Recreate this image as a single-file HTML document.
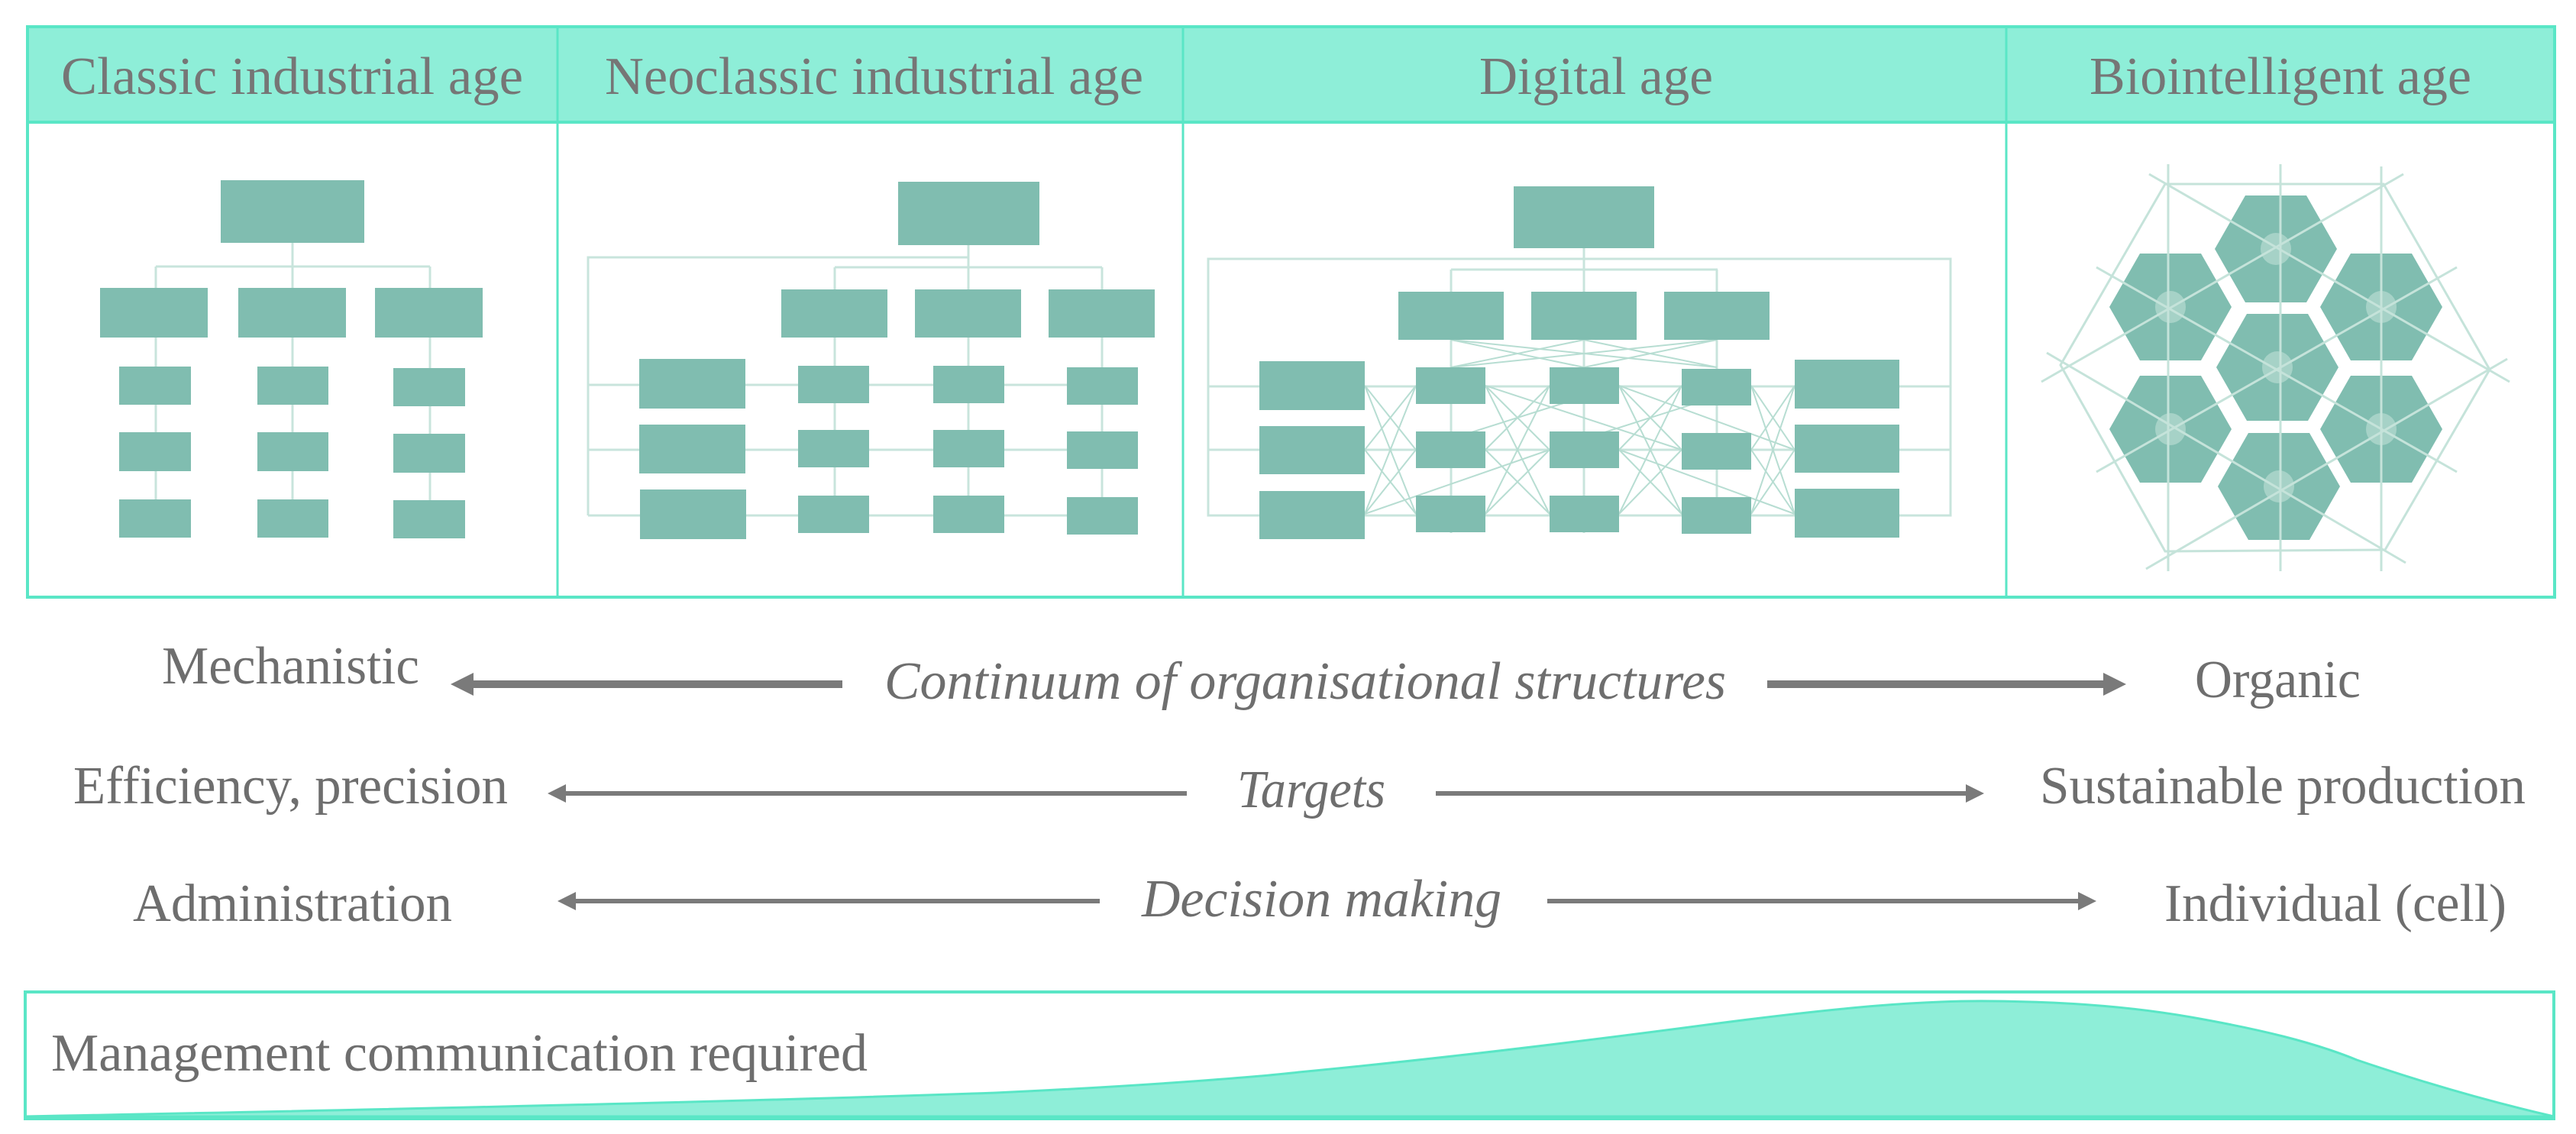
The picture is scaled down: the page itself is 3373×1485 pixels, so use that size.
<!DOCTYPE html>
<html><head><meta charset="utf-8"><style>html,body{margin:0;padding:0;background:#fff}svg{display:block}</style></head>
<body>
<svg width="3373" height="1485" viewBox="0 0 3373 1485" xmlns="http://www.w3.org/2000/svg" font-family="Liberation Serif, serif">
<!-- headers -->
<rect x="36" y="35" width="3309" height="125" fill="#8eeed8"/>
<rect x="36" y="35" width="3309" height="747" fill="none" stroke="#5ae6c6" stroke-width="4"/>
<line x1="36" y1="160" x2="3345" y2="160" stroke="#5ae6c6" stroke-width="4"/>
<g stroke="#5ae6c6" stroke-width="3">
<line x1="730" y1="35" x2="730" y2="782"/>
<line x1="1549" y1="35" x2="1549" y2="782"/>
<line x1="2627" y1="35" x2="2627" y2="782"/>
</g>
<g fill="#767676" font-size="70">
<text x="80" y="123" textLength="605" lengthAdjust="spacingAndGlyphs">Classic industrial age</text>
<text x="792" y="123" textLength="705" lengthAdjust="spacingAndGlyphs">Neoclassic industrial age</text>
<text x="1937" y="123" textLength="306" lengthAdjust="spacingAndGlyphs">Digital age</text>
<text x="2736" y="123" textLength="500" lengthAdjust="spacingAndGlyphs">Biointelligent age</text>
</g>

<!-- panel 1 -->
<g stroke="#c8e4dc" stroke-width="3" fill="none">
<line x1="383" y1="318" x2="383" y2="704"/>
<line x1="204" y1="349" x2="563" y2="349"/>
<line x1="204" y1="349" x2="204" y2="704"/>
<line x1="563" y1="349" x2="563" y2="704"/>
</g>
<g fill="#80bdb0">
<rect x="289" y="236" width="188" height="82"/>
<rect x="131" y="377" width="141" height="65"/><rect x="312" y="377" width="141" height="65"/><rect x="491" y="377" width="141" height="65"/>
<rect x="156" y="480" width="94" height="50"/><rect x="337" y="480" width="93" height="50"/><rect x="515" y="482" width="94" height="50"/>
<rect x="156" y="566" width="94" height="51"/><rect x="337" y="566" width="93" height="51"/><rect x="515" y="568" width="94" height="51"/>
<rect x="156" y="654" width="94" height="50"/><rect x="337" y="654" width="93" height="50"/><rect x="515" y="655" width="94" height="50"/>
</g>

<!-- panel 2 -->
<g stroke="#c8e4dc" stroke-width="3" fill="none">
<line x1="1268" y1="321" x2="1268" y2="698"/>
<polyline points="1268,337 770,337 770,675"/>
<line x1="1093" y1="350" x2="1443" y2="350"/>
<line x1="1093" y1="350" x2="1093" y2="698"/>
<line x1="1443" y1="350" x2="1443" y2="698"/>
<line x1="770" y1="504" x2="1490" y2="504"/>
<line x1="770" y1="589" x2="1490" y2="589"/>
<line x1="770" y1="675" x2="1490" y2="675"/>
</g>
<g fill="#80bdb0">
<rect x="1176" y="238" width="185" height="83"/>
<rect x="1023" y="379" width="139" height="63"/><rect x="1198" y="379" width="139" height="63"/><rect x="1373" y="379" width="139" height="63"/>
<rect x="837" y="470" width="139" height="65"/><rect x="837" y="556" width="139" height="64"/><rect x="838" y="641" width="139" height="65"/>
<rect x="1045" y="479" width="93" height="49"/><rect x="1222" y="479" width="93" height="49"/><rect x="1397" y="481" width="93" height="49"/>
<rect x="1045" y="563" width="93" height="49"/><rect x="1222" y="563" width="93" height="49"/><rect x="1397" y="565" width="93" height="49"/>
<rect x="1045" y="649" width="93" height="49"/><rect x="1222" y="649" width="93" height="49"/><rect x="1397" y="651" width="93" height="49"/>
</g>

<!-- panel 3 -->
<g stroke="#c8e4dc" stroke-width="3" fill="none">
<line x1="2074" y1="325" x2="2074" y2="698"/>
<rect x="1582" y="339" width="972" height="336"/>
<line x1="1900" y1="353" x2="2249" y2="353"/>
<line x1="1900" y1="353" x2="1900" y2="698"/>
<line x1="2248" y1="353" x2="2248" y2="698"/>
<line x1="1582" y1="506" x2="2554" y2="506"/>
<line x1="1582" y1="589" x2="2554" y2="589"/>
</g>
<g stroke="#b7ddd2" stroke-width="2">
<line x1="1900" y1="445" x2="2074" y2="481"/><line x1="1900" y1="445" x2="2248" y2="481"/>
<line x1="2074" y1="445" x2="1900" y2="481"/><line x1="2074" y1="445" x2="2248" y2="481"/>
<line x1="2248" y1="445" x2="1900" y2="481"/><line x1="2248" y1="445" x2="2074" y2="481"/>
<line x1="1787" y1="505" x2="1854" y2="589"/><line x1="1787" y1="505" x2="1854" y2="673"/><line x1="1787" y1="589" x2="1854" y2="505"/><line x1="1787" y1="589" x2="1854" y2="673"/><line x1="1787" y1="673" x2="1854" y2="505"/><line x1="1787" y1="673" x2="1854" y2="589"/>
<line x1="1945" y1="505" x2="2029" y2="589"/><line x1="1945" y1="505" x2="2029" y2="673"/><line x1="1945" y1="589" x2="2029" y2="505"/><line x1="1945" y1="589" x2="2029" y2="673"/><line x1="1945" y1="673" x2="2029" y2="505"/><line x1="1945" y1="673" x2="2029" y2="589"/>
<line x1="2120" y1="505" x2="2202" y2="589"/><line x1="2120" y1="505" x2="2202" y2="673"/><line x1="2120" y1="589" x2="2202" y2="505"/><line x1="2120" y1="589" x2="2202" y2="673"/><line x1="2120" y1="673" x2="2202" y2="505"/><line x1="2120" y1="673" x2="2202" y2="589"/>
<line x1="2293" y1="505" x2="2350" y2="589"/><line x1="2293" y1="505" x2="2350" y2="673"/><line x1="2293" y1="589" x2="2350" y2="505"/><line x1="2293" y1="589" x2="2350" y2="673"/><line x1="2293" y1="673" x2="2350" y2="505"/><line x1="2293" y1="673" x2="2350" y2="589"/>
<line x1="1945" y1="505" x2="2202" y2="589"/><line x1="2029" y1="589" x2="2293" y2="505"/><line x1="1854" y1="589" x2="2120" y2="505"/><line x1="2120" y1="589" x2="2350" y2="673"/>
<line x1="1787" y1="673" x2="2029" y2="589"/><line x1="2120" y1="505" x2="2350" y2="589"/>
</g>
<g fill="#80bdb0">
<rect x="1982" y="244" width="184" height="81"/>
<rect x="1831" y="382" width="138" height="63"/><rect x="2005" y="382" width="138" height="63"/><rect x="2179" y="382" width="138" height="63"/>
<rect x="1649" y="473" width="138" height="64"/><rect x="1649" y="558" width="138" height="63"/><rect x="1649" y="643" width="138" height="63"/>
<rect x="2350" y="471" width="137" height="64"/><rect x="2350" y="556" width="137" height="63"/><rect x="2350" y="640" width="137" height="64"/>
<rect x="1854" y="481" width="91" height="48"/><rect x="2029" y="481" width="91" height="48"/><rect x="2202" y="483" width="91" height="48"/>
<rect x="1854" y="565" width="91" height="48"/><rect x="2029" y="565" width="91" height="48"/><rect x="2202" y="567" width="91" height="48"/>
<rect x="1854" y="649" width="91" height="48"/><rect x="2029" y="649" width="91" height="48"/><rect x="2202" y="651" width="91" height="48"/>
</g>

<!-- panel 4 -->
<defs>
<polygon id="hx" points="-40,-70 40,-70 80,0 40,70 -40,70 -80,0"/>
</defs>
<g fill="#80bdb0">
<use href="#hx" x="2980" y="326"/>
<use href="#hx" x="2842" y="402"/>
<use href="#hx" x="3118" y="402"/>
<use href="#hx" x="2982" y="481"/>
<use href="#hx" x="2842" y="562"/>
<use href="#hx" x="3118" y="562"/>
<use href="#hx" x="2984" y="637"/>
</g>
<g fill="#a6d2c7">
<ellipse cx="2980" cy="326" rx="20" ry="21"/>
<ellipse cx="2842" cy="402" rx="20" ry="21"/>
<ellipse cx="3118" cy="402" rx="20" ry="21"/>
<ellipse cx="2982" cy="481" rx="20" ry="21"/>
<ellipse cx="2842" cy="562" rx="20" ry="21"/>
<ellipse cx="3118" cy="562" rx="20" ry="21"/>
<ellipse cx="2984" cy="637" rx="20" ry="21"/>
</g>
<g stroke="#c5e3da" stroke-width="3" fill="none">
<polygon points="2835,241 3121,241 3260,484 3123,720 2835,722 2698,478"/>
<line x1="2839" y1="215" x2="2839" y2="748"/>
<line x1="2986" y1="215" x2="2986" y2="748"/>
<line x1="3118" y1="218" x2="3118" y2="748"/>
<line x1="2814" y1="228" x2="3286" y2="500"/>
<line x1="3147" y1="228" x2="2673" y2="500"/>
<line x1="2745" y1="350" x2="3217" y2="618"/>
<line x1="3217" y1="350" x2="2745" y2="618"/>
<line x1="2680" y1="462" x2="3150" y2="737"/>
<line x1="3283" y1="470" x2="2810" y2="745"/>
</g>

<!-- continuum rows -->
<g fill="#6e6e6e" font-size="70">
<text x="212" y="895" textLength="337" lengthAdjust="spacingAndGlyphs">Mechanistic</text>
<text x="2874" y="913" textLength="217" lengthAdjust="spacingAndGlyphs">Organic</text>
<text x="96" y="1052" textLength="569" lengthAdjust="spacingAndGlyphs">Efficiency, precision</text>
<text x="2671" y="1052" textLength="636" lengthAdjust="spacingAndGlyphs">Sustainable production</text>
<text x="174" y="1206" textLength="418" lengthAdjust="spacingAndGlyphs">Administration</text>
<text x="2834" y="1206" textLength="448" lengthAdjust="spacingAndGlyphs">Individual (cell)</text>
<text x="67" y="1402" textLength="1069" lengthAdjust="spacingAndGlyphs">Management communication required</text>
</g>
<g fill="#6e6e6e" font-size="70" font-style="italic">
<text x="1158" y="915" textLength="1102" lengthAdjust="spacingAndGlyphs">Continuum of organisational structures</text>
<text x="1620" y="1057" textLength="194" lengthAdjust="spacingAndGlyphs">Targets</text>
<text x="1495" y="1200" textLength="471" lengthAdjust="spacingAndGlyphs">Decision making</text>
</g>
<g fill="#7a7a7a">
<rect x="612" y="891" width="491" height="10"/>
<polygon points="590,896 620,881 620,911"/>
<rect x="2314" y="891" width="448" height="10"/>
<polygon points="2784,896 2754,881 2754,911"/>
<rect x="735" y="1036" width="819" height="6"/>
<polygon points="717,1039 741,1027 741,1051"/>
<rect x="1880" y="1036" width="700" height="6"/>
<polygon points="2598,1039 2574,1027 2574,1051"/>
<rect x="748" y="1177" width="692" height="6"/>
<polygon points="730,1180 754,1168 754,1192"/>
<rect x="2026" y="1177" width="700" height="6"/>
<polygon points="2745,1180 2721,1168 2721,1192"/>
</g>

<!-- bottom box -->
<path d="M33,1462 C400,1455 900,1445 1304,1431 C1500,1422 1650,1410 1701,1404 C1900,1385 2100,1360 2250,1340 C2420,1318 2520,1310 2608,1311 C2720,1312 2800,1320 2869,1332 C2960,1348 3030,1365 3086,1388 C3180,1420 3270,1445 3344,1462 Z" fill="#8eeed8" stroke="#5ae6c6" stroke-width="3"/>
<rect x="33" y="1299" width="3311" height="166" fill="none" stroke="#5ae6c6" stroke-width="4"/>
</svg>
</body></html>
